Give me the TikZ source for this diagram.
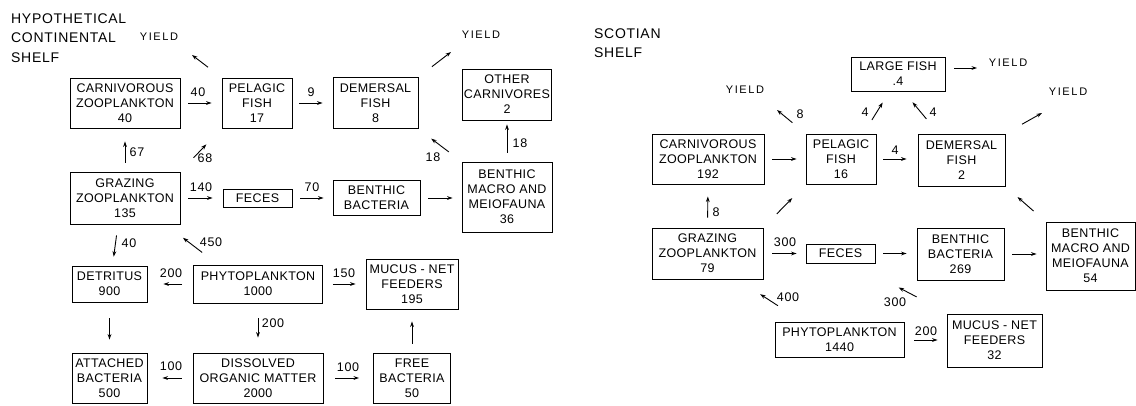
\documentclass[tikz,border=0pt]{standalone}
\usepackage{fontspec}
\setmainfont{Liberation Sans}[LetterSpace=5]
\newfontfamily\myboxff{Liberation Sans}[LetterSpace=3]
\newfontfamily\myyldff{Liberation Sans}[LetterSpace=15]
\usetikzlibrary{arrows.meta}
\newcommand\myboxfont{\myboxff\fontsize{12.5}{15}\selectfont}
\newcommand\mylabfont{\fontsize{12.5}{15}\selectfont}
\newcommand\myyieldfont{\myyldff\fontsize{11}{13}\selectfont}
\newcommand\mytitlefont{\fontsize{14}{19.5}\selectfont}
\begin{document}
\begin{tikzpicture}[x=1pt,y=-1pt,
  box/.style={draw, line width=0.9pt, inner sep=0pt, align=center, font=\myboxfont},
  lab/.style={inner sep=0pt, font=\mylabfont},
  yld/.style={inner sep=0pt, font=\myyieldfont},
  ttl/.style={inner sep=0pt, align=left, font=\mytitlefont, anchor=west},
  arr/.style={line width=0.9pt, -{Stealth[length=5.5pt,width=3.8pt]}}]
\useasboundingbox (0,0) rectangle (1136,405);

% ---------------- left: hypothetical continental shelf
\node[ttl] (t1) at (11,38) {HYPOTHETICAL\\CONTINENTAL\\SHELF};

\node[box, minimum width=110pt, minimum height=50pt] (cz) at (125,103) {CARNIVOROUS\\ZOOPLANKTON\\40};
\node[box, minimum width=70pt, minimum height=50pt] (pf) at (257,103) {PELAGIC\\FISH\\17};
\node[box, minimum width=85pt, minimum height=51pt] (df) at (375.5,103) {DEMERSAL\\FISH\\8};
\node[box, minimum width=89pt, minimum height=51pt] (oc) at (507,94.5) {OTHER\\CARNIVORES\\2};
\node[box, minimum width=110pt, minimum height=52pt] (gz) at (125,198) {GRAZING\\ZOOPLANKTON\\135};
\node[box, minimum width=69pt, minimum height=18pt] (fe) at (257.5,198) {FECES};
\node[box, minimum width=87pt, minimum height=35pt] (bb) at (376.5,198) {BENTHIC\\BACTERIA};
\node[box, minimum width=90pt, minimum height=70pt] (bm) at (507,197) {BENTHIC\\MACRO AND\\MEIOFAUNA\\36};
\node[box, minimum width=75pt, minimum height=36pt] (de) at (109.5,284) {DETRITUS\\900};
\node[box, minimum width=129pt, minimum height=38pt] (ph) at (258,284) {PHYTOPLANKTON\\1000};
\node[box, minimum width=92pt, minimum height=50pt] (mn) at (412,284) {MUCUS - NET\\FEEDERS\\195};
\node[box, minimum width=75pt, minimum height=50pt] (ab) at (109.5,378) {ATTACHED\\BACTERIA\\500};
\node[box, minimum width=130pt, minimum height=50pt] (dom) at (258,378) {DISSOLVED\\ORGANIC MATTER\\2000};
\node[box, minimum width=77pt, minimum height=50pt] (fb) at (412,378) {FREE\\BACTERIA\\50};

\coordinate (yl1) at (192,55);
\coordinate (yl2) at (451,52);
\node[yld] (y1) at (159,37) {YIELD};
\node[yld] (y2) at (481,35) {YIELD};

\draw[arr, shorten <=17pt] (pf.north west) -- (yl1);
\draw[arr, shorten <=17pt] (df.north east) -- (yl2);
\draw[arr, shorten <=8pt, shorten >=10pt] (cz.east) -- (pf.west);
\draw[arr, shorten <=7pt, shorten >=10pt] (pf.east) -- (df.west);
\draw[arr, shorten <=9pt, shorten >=4pt] (bm.north) -- (oc.south);
\draw[arr, shorten <=16pt, shorten >=16pt] (bm.north west) -- (df.south east);
\draw[arr, shorten <=9pt, shorten >=13pt] (gz.north) -- (cz.south);
\draw[arr, shorten <=19pt, shorten >=22pt] (gz.north east) -- (pf.south west);
\draw[arr, shorten <=8pt, shorten >=10pt] (gz.east) -- (fe.west);
\draw[arr, shorten <=8pt, shorten >=9pt] (fe.east) -- (bb.west);
\draw[arr, shorten <=8pt, shorten >=9pt] (bb.east) -- (bb.east -| bm.west);
\draw[arr, shorten <=11pt, shorten >=9pt] ([xshift=-7pt]gz.south) -- ([xshift=3pt]de.north);
\draw[arr, shorten <=20pt, shorten >=22pt] ([xshift=25pt]ph.north west) -- ([xshift=-15pt]gz.south east);
\draw[arr, shorten <=11pt, shorten >=16pt] (ph.west) -- (de.east);
\draw[arr, shorten <=10pt, shorten >=10pt] (ph.east) -- (mn.west);
\draw[arr, shorten <=15pt, shorten >=15pt] (ph.south) -- (dom.north);
\draw[arr, shorten <=16pt, shorten >=13pt] (de.south) -- (ab.north);
\draw[arr, shorten <=11pt, shorten >=15pt] (dom.west) -- (ab.east);
\draw[arr, shorten <=12pt, shorten >=14pt] (dom.east) -- (fb.west);
\draw[arr, shorten <=9pt, shorten >=12pt] (fb.north) -- (mn.south);

\node[lab] (l1) at (198,92) {40};
\node[lab] (l2) at (311,92) {9};
\node[lab] (l3) at (520,143) {18};
\node[lab] (l4) at (433,157) {18};
\node[lab] (l5) at (137,152) {67};
\node[lab] (l6) at (205,158) {68};
\node[lab] (l7) at (201,187) {140};
\node[lab] (l8) at (312,187) {70};
\node[lab] (l9) at (129,243) {40};
\node[lab] (l10) at (211,242) {450};
\node[lab] (l11) at (171,273) {200};
\node[lab] (l12) at (344,273) {150};
\node[lab] (l13) at (273,323) {200};
\node[lab] (l14) at (171,366) {100};
\node[lab] (l15) at (348,367) {100};

% ---------------- right: scotian shelf
\node[ttl] (t2) at (594,43) {SCOTIAN\\SHELF};

\node[box, minimum width=94pt, minimum height=34pt] (lf) at (898,74) {LARGE FISH\\.4};
\node[box, minimum width=112pt, minimum height=50pt] (cz2) at (708,159) {CARNIVOROUS\\ZOOPLANKTON\\192};
\node[box, minimum width=70pt, minimum height=50pt] (pf2) at (841,159) {PELAGIC\\FISH\\16};
\node[box, minimum width=87pt, minimum height=52pt] (df2) at (961.5,160) {DEMERSAL\\FISH\\2};
\node[box, minimum width=111pt, minimum height=51pt] (gz2) at (707.5,253.5) {GRAZING\\ZOOPLANKTON\\79};
\node[box, minimum width=69pt, minimum height=19pt] (fe2) at (840.5,253.5) {FECES};
\node[box, minimum width=87pt, minimum height=52pt] (bb2) at (960.5,254) {BENTHIC\\BACTERIA\\269};
\node[box, minimum width=89pt, minimum height=68pt] (bm2) at (1090.5,256) {BENTHIC\\MACRO AND\\MEIOFAUNA\\54};
\node[box, minimum width=129pt, minimum height=35pt] (ph2) at (839.5,340) {PHYTOPLANKTON\\1440};
\node[box, minimum width=95pt, minimum height=53pt] (mn2) at (994.5,340.5) {MUCUS - NET\\FEEDERS\\32};

\coordinate (yr1) at (777,110);
\coordinate (yr2) at (977,68);
\coordinate (yr3) at (1042,113);
\node[yld] (y3) at (745,90) {YIELD};
\node[yld] (y4) at (1008,63) {YIELD};
\node[yld] (y5) at (1068,92) {YIELD};

\draw[arr, shorten <=17pt] (pf2.north west) -- (yr1);
\draw[arr, shorten <=16pt, shorten >=13pt] ([xshift=-13pt]pf2.north east) -- ([xshift=39pt]lf.south west);
\draw[arr, shorten <=19pt, shorten >=14pt] ([xshift=21pt]df2.north west) -- ([xshift=53pt]lf.south west);
\draw[arr, shorten <=9pt] ([yshift=6pt]lf.east) -- (yr2);
\draw[arr, shorten <=19pt] (df2.north east) -- (yr3);
\draw[arr, shorten <=8pt, shorten >=9pt] (cz2.east) -- (cz2.east -| pf2.west);
\draw[arr, shorten <=7pt, shorten >=11pt] (pf2.east) -- (pf2.east -| df2.west);
\draw[arr, shorten <=10pt, shorten >=12pt] (gz2.north) -- (cz2.south);
\draw[arr, shorten <=19pt, shorten >=19pt] (gz2.north east) -- (pf2.south west);
\draw[arr, shorten <=9pt, shorten >=9pt] (gz2.east) -- (fe2.west);
\draw[arr, shorten <=8pt, shorten >=10pt] (fe2.east) -- (fe2.east -| bb2.west);
\draw[arr, shorten <=8pt, shorten >=9pt] (bb2.east) -- (bb2.east -| bm2.west);
\draw[arr, shorten <=16pt, shorten >=16pt] (bm2.north west) -- (df2.south east);
\draw[arr, shorten <=30pt, shorten >=27pt] ([xshift=28.5pt]ph2.north west) -- ([xshift=30pt]gz2.south);
\draw[arr, shorten <=36pt, shorten >=52pt] ([xshift=2pt]mn2.north west) -- ([xshift=12pt]fe2.south);
\draw[arr, shorten <=10pt, shorten >=9pt] (ph2.east) -- (ph2.east -| mn2.west);

\node[lab] (r1) at (800,114) {8};
\node[lab] (r2) at (865,112) {4};
\node[lab] (r3) at (933,112) {4};
\node[lab] (r4) at (895,150) {4};
\node[lab] (r5) at (716,212) {8};
\node[lab] (r6) at (785,242) {300};
\node[lab] (r7) at (788,297) {400};
\node[lab] (r8) at (895,302) {300};
\node[lab] (r9) at (926,331) {200};
\end{tikzpicture}
\end{document}
